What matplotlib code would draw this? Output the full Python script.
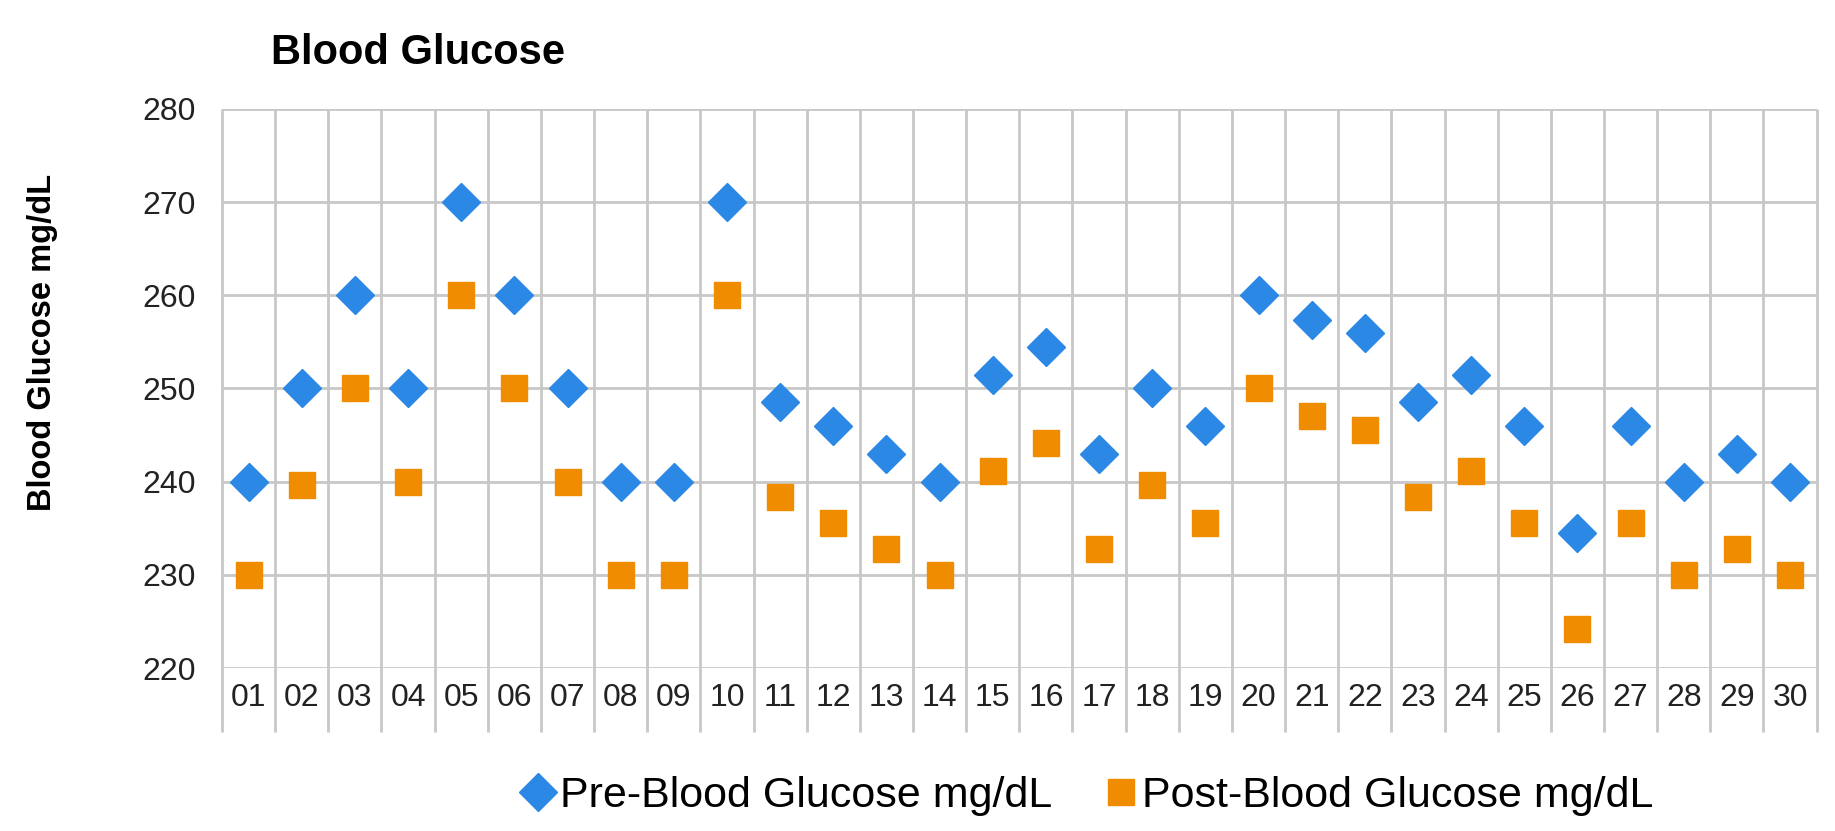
import matplotlib.pyplot as plt
import matplotlib.transforms as mtransforms

plt.rcParams['font.family'] = ['Liberation Sans', 'DejaVu Sans']

# Daily readings, mg/dL
days = ["01", "02", "03", "04", "05", "06", "07", "08", "09", "10",
        "11", "12", "13", "14", "15", "16", "17", "18", "19", "20",
        "21", "22", "23", "24", "25", "26", "27", "28", "29", "30"]
pre_glucose = [240, 250, 260, 250, 270, 260, 250, 240, 240, 270,
               248.6, 246, 243, 240, 251.5, 254.5, 243, 250, 246, 260,
               257.3, 256, 248.6, 251.5, 246, 234.5, 246, 240, 243, 240]
post_glucose = [230, 239.6, 250, 240, 260, 250, 240, 230, 230, 260,
                238.4, 235.6, 232.8, 230, 241.2, 244.1, 232.8, 239.6, 235.6, 250,
                247, 245.6, 238.4, 241.2, 235.6, 224.2, 235.6, 230, 232.8, 230]
y_ticks = [220, 230, 240, 250, 260, 270, 280]

blue = "#2B88E4"
orange = "#F08C00"
grid_color = "#c8c8c8"

fig = plt.figure(figsize=(18.35, 8.31), dpi=100)
ax = fig.add_axes([0.121, 0.196, 0.869, 0.673])

x = list(range(1, len(days) + 1))
ax.plot(x, pre_glucose, linestyle="none", marker="D", markersize=19,
        color=blue, label="Pre-Blood Glucose mg/dL", zorder=3)
ax.plot(x, post_glucose, linestyle="none", marker="s", markersize=19,
        color=orange, label="Post-Blood Glucose mg/dL", zorder=3)

ax.set_xlim(0.5, len(days) + 0.5)
ax.set_ylim(220, 280)
ax.set_yticks(y_ticks)
ax.set_xticks(x)
ax.set_xticklabels(days)
ax.tick_params(axis="both", length=0, labelsize=23, colors="#222222")
ax.tick_params(axis="x", pad=11)
ax.tick_params(axis="y", pad=19)

# horizontal gridlines
ax.grid(axis="y", color=grid_color, linewidth=2, zorder=0)
for s in ax.spines.values():
    s.set_visible(False)

# category separators reach down past the axis into the label area
trans = mtransforms.blended_transform_factory(ax.transData, ax.transAxes)
for b in range(len(days) + 1):
    ax.vlines(b + 0.5, -0.115, 1, transform=trans, color=grid_color,
              linewidth=2, clip_on=False, zorder=0)

fig.text(271 / 1835, 1 - 53 / 831, "Blood Glucose", fontsize=30,
         fontweight="bold", ha="left", va="center")
fig.text(43 / 1835, 1 - 342 / 831, "Blood Glucose mg/dL", fontsize=23.5,
         fontweight="bold", rotation=90, ha="center", va="center")

fig.legend(loc="center", bbox_to_anchor=(1085 / 1835, 1 - 796 / 831),
           ncol=2, frameon=False, fontsize=31, handletextpad=0.0,
           columnspacing=1.1, markerscale=1.0, handlelength=1.0)

plt.savefig("out.png", dpi=100)
